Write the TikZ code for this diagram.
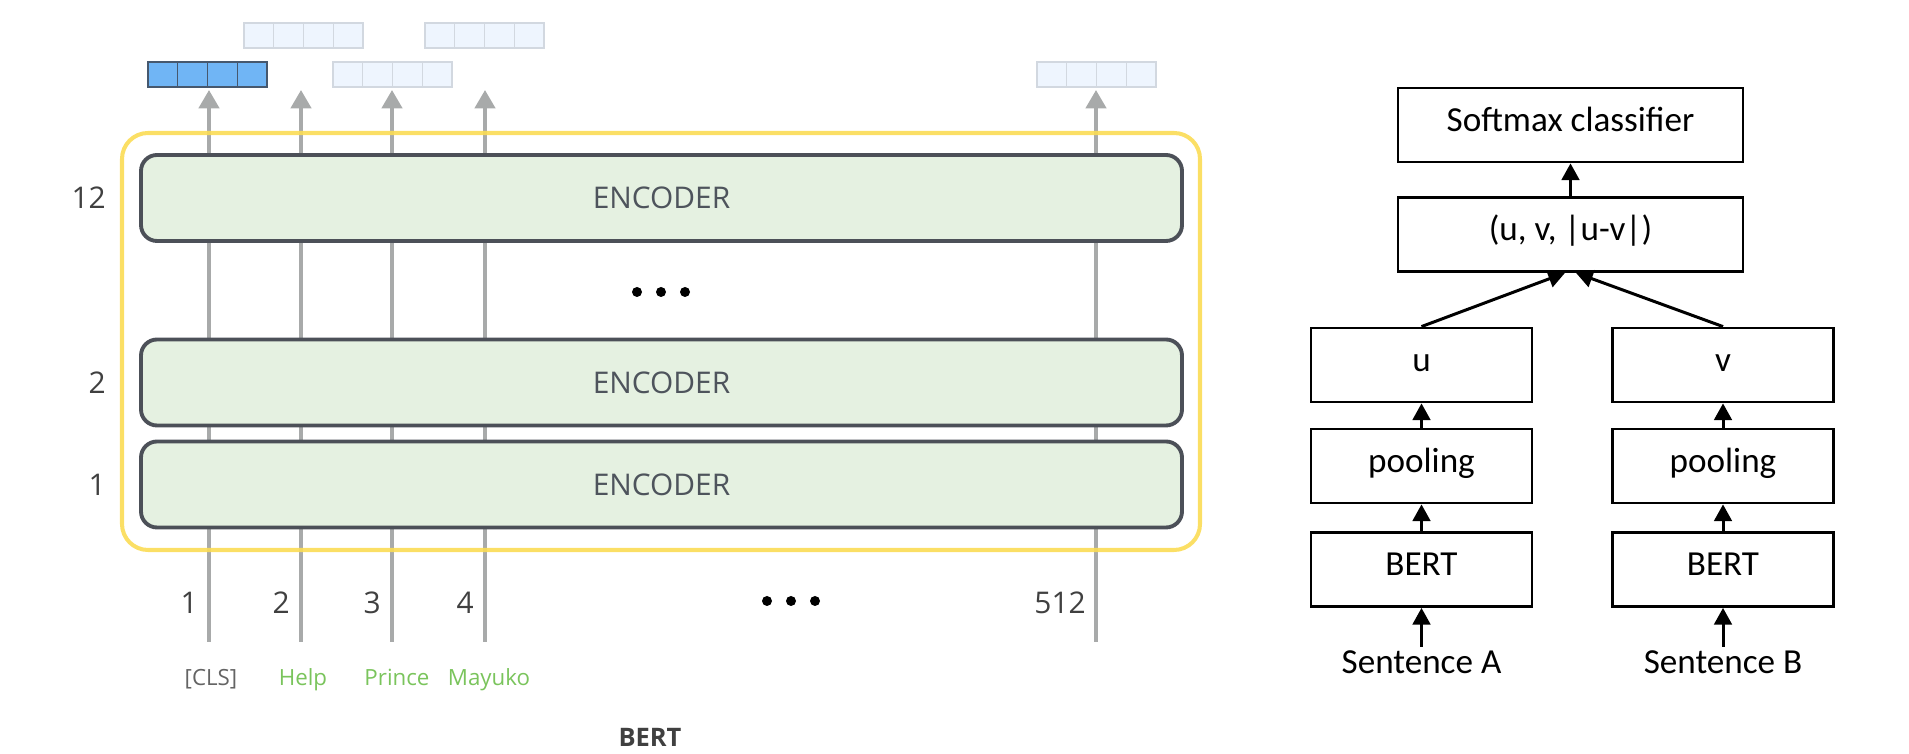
\documentclass[tikz,border=0pt]{standalone}
\usepackage{fontspec}
\usepackage{tikz}
\usetikzlibrary{%
	calc,%
	positioning,%
	arrows.meta%
}
\newfontfamily\encfont{Open Sans}
\newfontfamily\calfont{Carlito}
\definecolor{yellow(frame)}{RGB}{251,220,84}
\definecolor{green(encoder)}{RGB}{229,241,225}
\definecolor{gray(encoder)}{RGB}{76,80,88}
\definecolor{gray(text)}{RGB}{78,84,92}
\definecolor{gray(line)}{RGB}{168,170,170}
\definecolor{gray(number)}{RGB}{64,64,64}
\definecolor{blue(cls)}{RGB}{112,181,245}
\definecolor{blue(edge)}{RGB}{70,88,110}
\definecolor{blue(pale)}{RGB}{238,245,254}
\definecolor{gray(pale)}{RGB}{210,216,224}
\definecolor{green(token)}{RGB}{122,196,92}
\definecolor{gray(token)}{RGB}{100,100,100}

\begin{document}
\begin{tikzpicture}[
		encoder/.style={draw=gray(encoder),fill=green(encoder),line width=2.2pt,
			rounded corners=0.32cm,minimum width=20.82cm,minimum height=1.72cm,
			text=gray(text),font=\encfont\fontsize{17}{20}\selectfont},
		layer/.style={text=gray(number),inner sep=0pt,font=\encfont\fontsize{17}{20}\selectfont},
		token/.style={inner sep=0pt,font=\encfont\fontsize{12.7}{15}\selectfont},
		flow/.style={draw=gray(line),line width=2.3pt,-{Triangle[width=11.5pt,length=10.5pt]}},
		cell/.style={line width=0.8pt},
		block/.style={draw,line width=1.6pt,minimum height=1.48cm,text height=0.72em,text depth=0pt,
			font=\calfont\fontsize{20}{24}\selectfont},
		wide/.style={block,minimum width=6.9cm},
		narrow/.style={block,minimum width=4.42cm},
		sentence/.style={inner sep=0.06cm,font=\calfont\fontsize{20}{24}\selectfont},
		link/.style={line width=1.7pt,-{Triangle[width=10pt,length=9.5pt]}}
	]
	\useasboundingbox (0,0) rectangle (38.18,15.08);
	
	% Token paths through the stack
	\foreach \n/\x in {1/4.18,2/6.02,3/7.84,4/9.70,512/21.92} {
		\coordinate (in\n) at (\x,2.24);
		\coordinate (out\n) at (\x,13.28);
		\draw[flow] (in\n) -- (out\n);
	}
	
	% Output vectors
	\foreach \c in {0,...,3} {
		\filldraw[cell,fill=blue(cls),draw=blue(edge)] ({2.96+0.595*\c},13.34) rectangle ++(0.595,0.5);
		\filldraw[cell,fill=blue(pale),draw=gray(pale)] ({4.88+0.595*\c},14.12) rectangle ++(0.595,0.5);
		\filldraw[cell,fill=blue(pale),draw=gray(pale)] ({6.66+0.595*\c},13.34) rectangle ++(0.595,0.5);
		\filldraw[cell,fill=blue(pale),draw=gray(pale)] ({8.50+0.595*\c},14.12) rectangle ++(0.595,0.5);
		\filldraw[cell,fill=blue(pale),draw=gray(pale)] ({20.74+0.595*\c},13.34) rectangle ++(0.595,0.5);
	}
	
	% Encoder stack
	\node[encoder] (enc12) at (13.23,11.12) {ENCODER};
	\node[encoder] (enc2) at (13.23,7.43) {ENCODER};
	\node[encoder] (enc1) at (13.23,5.39) {ENCODER};
	\draw[yellow(frame),line width=2.3pt,rounded corners=0.52cm,opacity=0.9] (2.44,4.08) rectangle (24.0,12.42);
	
	\node[layer,left=0.66cm of enc12] (l12) {12};
	\node[layer,left=0.66cm of enc2] (l2) {2};
	\node[layer,left=0.66cm of enc1] (l1) {1};
	\foreach \x in {12.74,13.22,13.70} \fill (\x,9.24) circle (0.1);
	
	% Positions and tokens
	\node[layer,anchor=east] (p1) at ($(in1)+(-0.22,0.78)$) {1};
	\node[layer,anchor=east] (p2) at ($(in2)+(-0.22,0.78)$) {2};
	\node[layer,anchor=east] (p3) at ($(in3)+(-0.22,0.78)$) {3};
	\node[layer,anchor=east] (p4) at ($(in4)+(-0.22,0.78)$) {4};
	\node[layer,anchor=east] (p512) at ($(in512)+(-0.2,0.78)$) {512};
	\foreach \x in {15.34,15.82,16.30} \fill (\x,3.06) circle (0.1);
	
	\node[token,text=gray(token),anchor=base] (cls) at (4.22,1.36) {[CLS]};
	\node[token,text=green(token),anchor=base] (help) at (6.06,1.36) {Help};
	\node[token,text=green(token),anchor=base] (prince) at (7.94,1.36) {Prince};
	\node[token,text=green(token),anchor=base] (mayuko) at (9.78,1.36) {Mayuko};
	
	\node[layer,font=\encfont\bfseries\fontsize{14.5}{17}\selectfont] (bert) at (13.0,0.34) {BERT};
	
	% Siamese side
	\node[wide] (softmax) at (31.41,12.58) {Softmax classifier};
	\node[wide] (concat) at (31.41,10.39) {(u, v, |u-v|)};
	\node[narrow] (u) at (28.43,7.78) {u};
	\node[narrow] (poolA) at (28.43,5.76) {pooling};
	\node[narrow] (bertA) at (28.43,3.69) {BERT};
	\node[narrow] (v) at (34.46,7.78) {v};
	\node[narrow] (poolB) at (34.46,5.76) {pooling};
	\node[narrow] (bertB) at (34.46,3.69) {BERT};
	\node[sentence,below=0.78cm of bertA] (sentA) {Sentence A};
	\node[sentence,below=0.78cm of bertB] (sentB) {Sentence B};
	
	\draw[link] (concat) -- (softmax);
	\draw[link] (u.north) -- ($(concat.south)+(-0.11,0)$);
	\draw[link] (v.north) -- ($(concat.south)+(0.11,0)$);
	\draw[link] (poolA) -- (u);
	\draw[link] (bertA) -- (poolA);
	\draw[link] (sentA) -- (bertA);
	\draw[link] (poolB) -- (v);
	\draw[link] (bertB) -- (poolB);
	\draw[link] (sentB) -- (bertB);
\end{tikzpicture}
\end{document}
